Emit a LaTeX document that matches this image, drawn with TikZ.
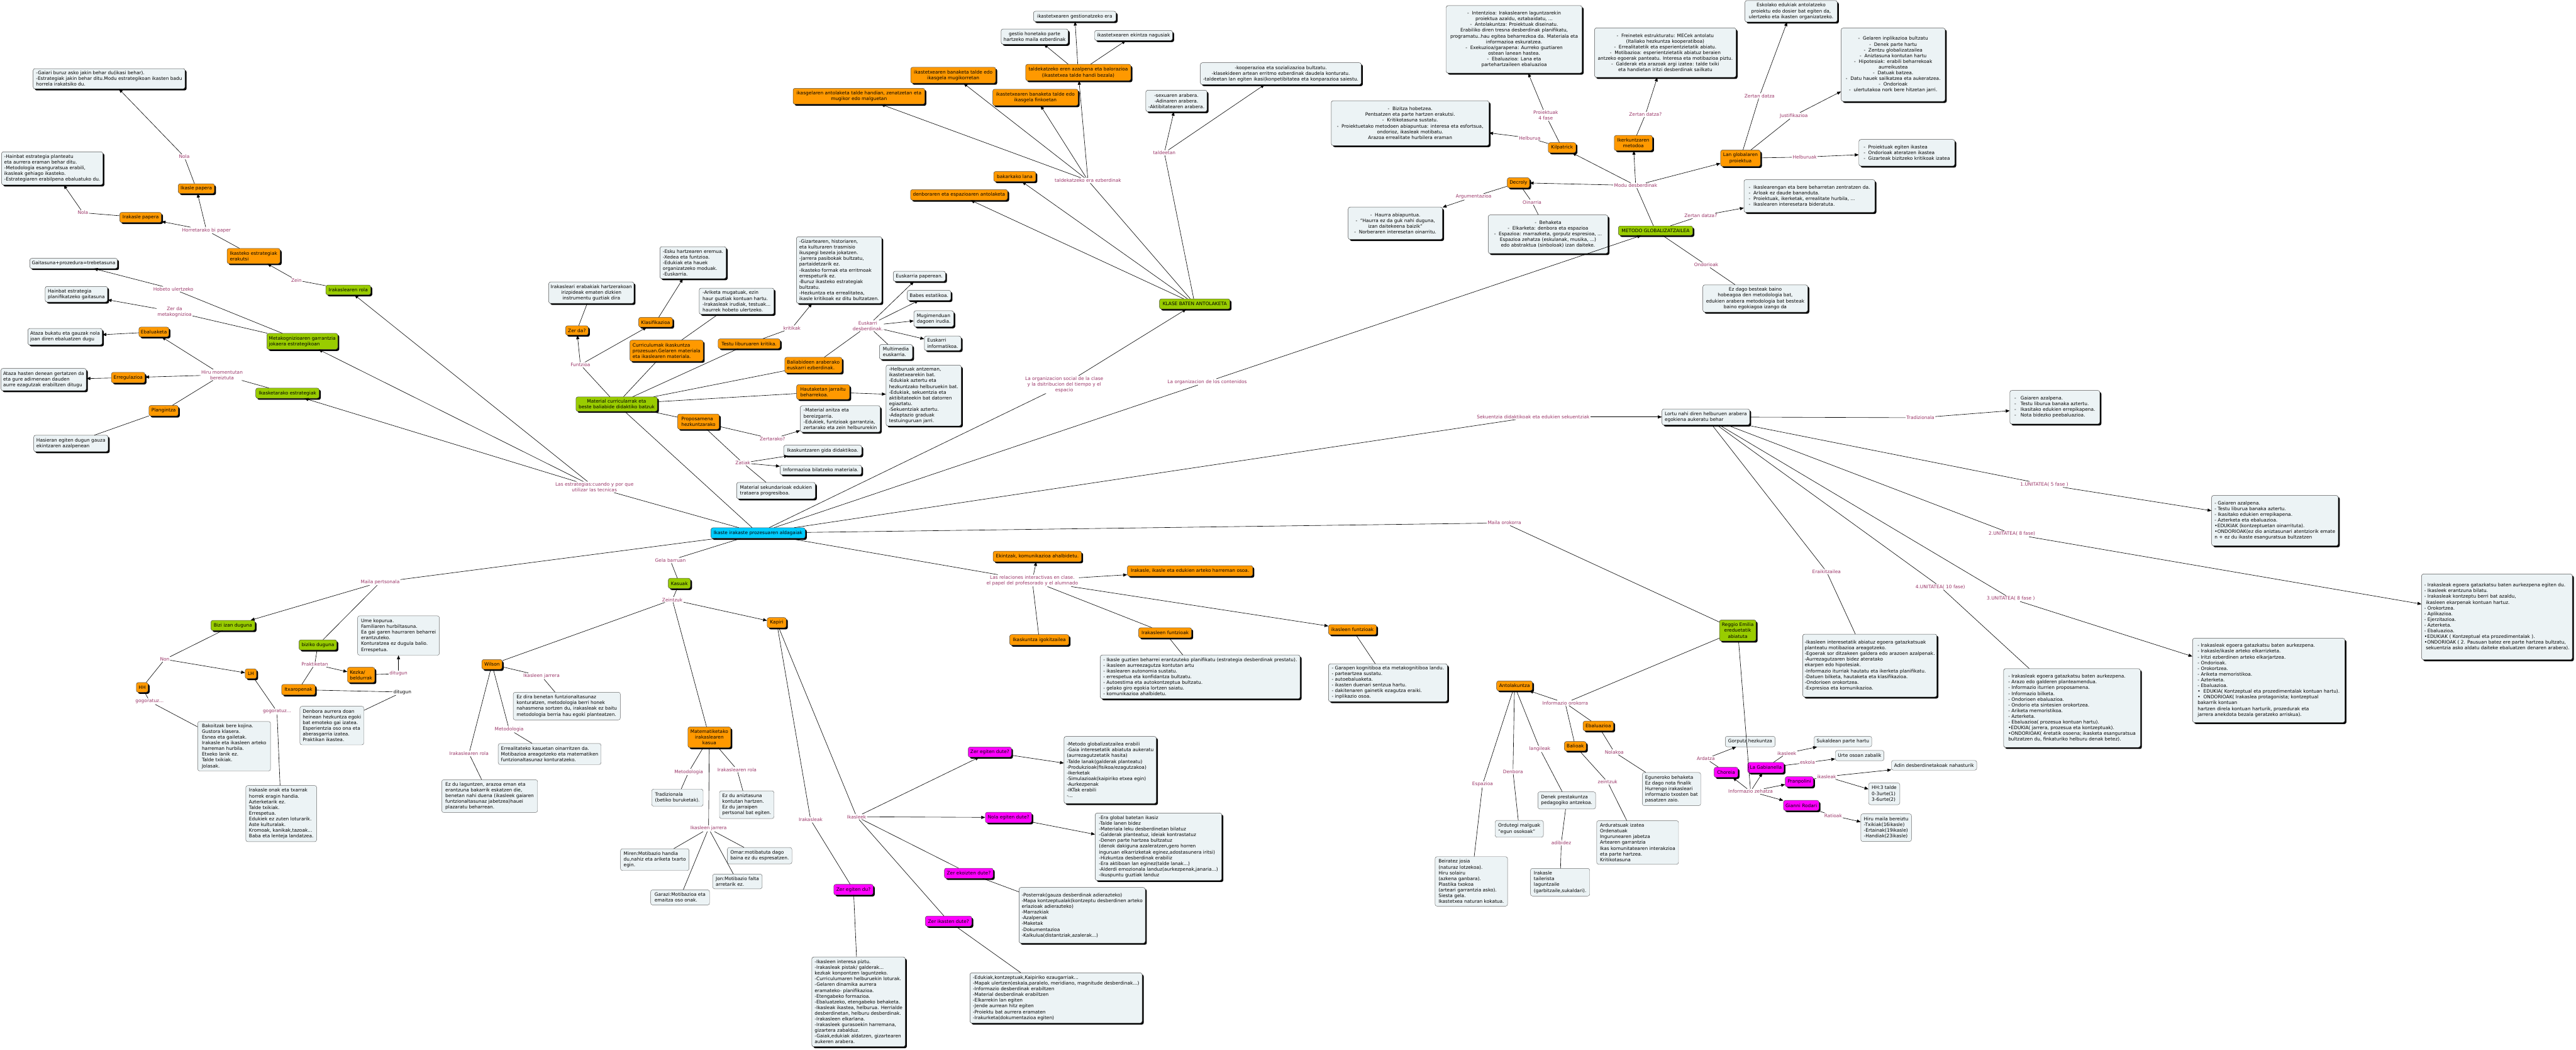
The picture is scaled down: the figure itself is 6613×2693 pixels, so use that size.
\documentclass[tikz,border=0pt]{standalone}
\usepackage{fontspec}
\setmainfont{DejaVu Sans}
\usetikzlibrary{shadows,arrows.meta}
\definecolor{corange}{RGB}{255,153,0}
\definecolor{cgreen}{RGB}{153,204,0}
\definecolor{ccyan}{RGB}{0,204,255}
\definecolor{cmag}{RGB}{255,0,255}
\definecolor{clight}{RGB}{236,243,245}
\definecolor{clab}{RGB}{153,51,102}
\newcommand\nf{\fontsize{12}{14.7}\selectfont}
\tikzset{
 base/.style={rounded corners=5pt, draw=black!70, line width=0.8pt, font=\nf, inner xsep=5pt, inner ysep=4pt, align=center},
 sh/.style={drop shadow={shadow xshift=4pt, shadow yshift=-4pt, opacity=1, fill=black}},
 ob/.style={base, sh, fill=corange},
 gb/.style={base, sh, fill=cgreen},
 mb/.style={base, sh, fill=cmag},
 cb/.style={base, sh, fill=ccyan},
 lb/.style={base, sh, fill=clight},
 pb/.style={base, fill=clight, draw=black!60, line width=0.7pt},
 lab/.style={font=\nf, text=clab, inner sep=2pt, align=center},
 ln/.style={line width=1pt, draw=black},
 arr/.style={ln, -{Triangle[length=10pt,width=8pt]}},
}
\newcommand\Cn[7]{\node[#1,minimum width={#5pt-4pt},minimum height={#6pt-3pt}] (#2) at ({#3-2},{#4-2}) {#7};}
\newcommand\Pn[7]{\node[pb,#1,minimum width={#5pt},minimum height={#6pt}] (#2) at (#3,#4) {#7};}
\newcommand\Lb[4]{\node[lab] (#1) at (#2,#3) {#4};}
\begin{document}
\begin{tikzpicture}[x=1pt,y=-1pt]
\fill[white] (0,0) rectangle (6613,2693);
\useasboundingbox (0,0) rectangle (6613,2693);
% ---------- top-left
\Cn{lb,align=left}{gaiari}{282}{204}{394}{55}{-Gaiari buruz asko jakin behar du(ikasi behar).\\-Estrategiak jakin behar ditu.Modu estrategikoan ikasten badu\\horrela irakatsiko du.}
\Cn{lb,align=left}{hainbatplan}{136}{434}{264}{88}{-Hainbat estrategia planteatu\\eta aurrera eraman behar ditu.\\-Metodologia esanguratsua erabili,\\ikasleak gehiago ikasteko.\\-Estrategiaren erabilpena ebaluatuko du.}
\Cn{ob}{ikaslepap}{506}{486}{97}{28}{Ikasle papera}
\Cn{ob}{irakpap}{363}{560}{111}{29}{Irakasle papera}
\Cn{ob,align=left}{ikastekoerak}{653}{659}{140}{42}{Ikasteko estrategiak\\erakutsi}
\Cn{gb}{irakrola}{896}{746}{119}{28}{Irakaslearen rola}
\Cn{lb}{gaitasuna}{191}{678}{229}{29}{Gaitasuna+prozedura=trebetasuna}
\Cn{lb,align=left}{hainbatestrat}{198}{757}{164}{43}{Hainbat estrategia\\planifikatzeko gaitasuna}
\Cn{ob}{ebaluaketa}{397}{854}{81}{28}{Ebaluaketa}
\Cn{lb,align=left}{ataza}{169}{866}{195}{45}{Ataza bukatu eta gauzak nola\\joan diren ebaluatzen dugu}
\Cn{gb,align=left}{metakog}{778}{878}{186}{44}{Metakognizioaren garrantzia\\jokaera estrategikoan}
\Cn{lb,align=left}{atazahasten}{114}{976}{223}{60}{Ataza hasten denean gertatzen da\\eta gure adimenean dauden\\aurre ezagutzak erabiltzen ditugu}
\Cn{ob}{erregulazioa}{331}{971}{90}{30}{Erregulazioa}
\Cn{gb}{ikasketarako}{740}{1011}{167}{29}{Ikasketarako estrategiak}
\Cn{ob}{plangintza}{422}{1056}{79}{30}{Plangintza}
\Cn{lb,align=left}{hasieran}{184}{1140}{195}{45}{Hasieran egiten dugun gauza\\ekintzaren azalpenean}
% ---------- middle-left
\Cn{lb}{irakerab}{1520}{753}{222}{58}{Irakasleari erabakiak hartzerakoan\\irizpideak ematen dizkien\\instrumentu guztiak dira}
\Cn{ob}{zerda}{1483}{850}{62}{27}{Zer da?}
\Cn{ob}{klasif}{1685}{829}{91}{28}{Klasifikazioa}
\Cn{ob,align=left}{curric}{1713}{902}{192}{57}{Curriculumak ikaskuntza\\prozesuan.Gelaren materiala\\eta ikaslearen materiala.}
\Cn{gb}{material}{1585}{1039}{213}{40}{Material curricularrak eta\\beste baliabide didaktiko batzuk}
\Cn{lb,align=left}{esku}{1781}{676}{174}{85}{-Esku hartzearen eremua.\\-Xedea eta funtzioa.\\-Edukiak eta hauek\\organizatzeko moduak.\\-Euskarria.}
\Cn{lb,align=left}{ariketa}{1893}{775}{196}{70}{-Ariketa mugatuak, ezin\\haur guztiak kontuan hartu.\\-Irakasleak irudiak, testuak...\\haurrek hobeto ulertzeko.}
\Cn{ob}{testu}{1925}{884}{163}{28}{Testu liburuaren kritika.}
\Cn{lb,align=left}{gizartea}{2156}{695}{223}{174}{-Gizartearen, historiaren,\\eta kulturaren trasmisio\\ikuspegi bezela jokatzen.\\-Jarrera pasibokak bultzatu,\\partaidetzarik ez.\\-Ikasteko formak eta erritmoak\\errespeturik ez.\\-Buruz ikasteko estrategiak\\bultzatu.\\-Hezkuntza eta errealitatea,\\ikasle kritikoak ez ditu bultzatzen.}
\Cn{ob,align=left}{baliabideen}{2090}{939}{151}{43}{Baliabideen araberako\\euskarri ezberdinak.}
\Cn{lb}{euskpaper}{2362}{711}{138}{29}{Euskarria paperean.}
\Cn{lb}{babes}{2387}{760}{116}{29}{Babes estatikoa.}
\Cn{lb,align=left}{mugimendu}{2399}{820}{106}{44}{Mugimenduan\\dagoen irudia.}
\Cn{lb,align=left}{euskinf}{2422}{883}{98}{40}{Euskarri\\informatikoa.}
\Cn{lb,align=left}{multimedia}{2302}{905}{89}{41}{Multimedia\\euskarria.}
\Cn{ob,align=left}{hautaketan}{2115}{1008}{140}{41}{Hautaketan jarraitu\\beharrekoa.}
\Cn{lb,align=left}{helburuak}{2373}{1017}{197}{159}{-Helburuak antzeman,\\ikastetxearekin bat.\\-Edukiak aztertu eta\\hezkuntzako helburuekin bat.\\-Edukiak, sekuentzia eta\\aktibitateekin bat datorren\\egiaztatu.\\-Sekuentziak aztertu.\\-Adaptazio graduak\\testuinguruan jarri.}
\Cn{ob,align=left}{proposamena}{1795}{1084}{111}{42}{Proposamena\\hezkuntzarako}
\Cn{lb,align=left}{materialanitza}{2159}{1077}{209}{71}{-Material anitza eta\\bereizgarria.\\-Edukiek, funtzioak garrantzia,\\zertarako eta zein helbururekin}
\Cn{lb}{gida}{2114}{1158}{204}{30}{Ikaskuntzaren gida didaktikoa.}
\Cn{lb}{infobil}{2109}{1208}{213}{28}{Informazioa bilatzeko materiala.}
\Cn{lb,align=left}{matsek}{1994}{1261}{206}{45}{Material sekundarioak edukien\\trataera progresiboa.}
\Cn{cb}{center}{1948}{1370}{246}{30}{Ikaste irakaste prozesuaren aldagaiak}
% ---------- upper middle
\Cn{lb}{gestioera}{2761}{44}{216}{29}{ikastetxearen gestionatzeko era}
\Cn{lb}{gestioparte}{2658}{96}{176}{42}{gestio honetako  parte\\hartzeko maila ezberdinak}
\Cn{lb}{ekintza}{2912}{93}{204}{29}{ikastetxearen ekintza nagusiak}
\Cn{ob}{taldeeren}{2770}{188}{274}{45}{taldekatzeko eren azalpena eta balorazioa\\(ikastetxea talde handi bezala)}
\Cn{ob}{banaketamug}{2449}{195}{222}{44}{ikastetxearen banaketa talde edo\\ikasgela mugikorretan}
\Cn{ob}{ikasgelaant}{2207}{249}{342}{44}{ikasgelaren antolaketa talde handian, zenatzetan eta\\mugikor edo malguetan}
\Cn{ob}{banaketafink}{2660}{252}{223}{45}{ikastetxearen banaketa talde edo\\ikasgela finkoetan}
\Cn{lb}{sexua}{3022}{261}{161}{58}{-sexuaren arabera.\\-Adinaren arabera.\\-Aktibitatearen arabera.}
\Cn{lb}{kooperazioa}{3290}{191}{417}{59}{-kooperazioa eta sozializazioa bultzatu.\\-klasekideen artean erritmo ezberdinak daudela konturatu.\\-taldeetan lan egiten ikasi(konpetibitatea eta konparazioa saiestu.}
\Cn{ob}{bakarkako}{2607}{455}{112}{29}{bakarkako lana}
\Cn{ob}{denboraesp}{2464}{502}{253}{30}{denboraren eta espazioaren antolaketa}
\Cn{gb}{klase}{3069}{782}{185}{29}{KLASE BATEN ANTOLAKETA}
% ---------- metodo globalizatzailea
\Cn{lb}{intentzioa}{3889}{103}{353}{176}{-\ \ Intentzioa: Irakaslearen laguntzarekin\\proiektua azaldu, eztabaidatu, ...\\-\ \ Antolakuntza: Proiektuak diseinatu.\\Erabiliko diren tresna desberdinak planifikatu,\\programatu..hau egitea beharrezkoa da. Materiala eta\\informazioa eskuratzea.\\-\ \ Exekuzioa/garapena: Aurreko guztiaren\\ostean lanean hastea.\\-\ \ Ebaluazioa: Lana eta\\partehartzaileen ebaluazioa}
\Cn{lb}{freinet}{4277}{137}{367}{130}{-\ \ Freinetek estrukturatu: MECek antolatu\\(Italiako hezkuntza kooperatiboa)\\-\ \ Errealitatetik eta esperientzietatik abiatu.\\-\ \ Motibazioa: esperientzietatik abiatuz beraien\\antzeko egoerak panteatu. Interesa eta motibazioa piztu.\\-\ \ Galderak eta arazoak argi izatea: talde txiki\\eta handietan iritzi desberdinak sailkatu}
\Cn{lb}{eskolako}{4600}{31}{241}{58}{Eskolako edukiak antolatzeko\\proiektu edo dosier bat egiten da,\\ulertzeko eta ikasten organizatzeko.}
\Cn{lb}{gelaren}{4862}{168}{271}{191}{-\ \ Gelaren inplikazioa bultzatu\\-\ \ Denek parte hartu\\-\ \ Zentzu globalizatzailea\\-\ \ Aniztasuna kontutan hartu\\-\ \ Hipotesiak: erabili beharrekoak\\aurreikustea\\-\ \ Datuak batzea.\\-\ \ Datu hauek sailkatzea eta aukeratzea.\\-\ \ Ondorioak\\-\ \ ulertutakoa nork bere hitzetan jarri.}
\Cn{lb}{bizitza}{3622}{318}{409}{118}{-\ \ Bizitza hobetzea.\\Pentsatzen eta parte hartzen erakutsi.\\-\ \ Kritikotasuna sustatu.\\-\ \ Proiektuetako metodoen abiapuntua: interesa eta esfortsua,\\ondorioz, ikasleak motibatu.\\Arazoa errealitate hurbilera eraman}
\Cn{ob}{kilpatrick}{4012}{381}{75}{29}{Kilpatrick}
\Cn{ob}{ikerkuntza}{4195}{369}{102}{42}{Ikerkuntzaren\\metodoa}
\Cn{ob}{langlobal}{4470}{408}{106}{45}{Lan globalaren\\proiektua}
\Cn{lb,align=left}{proiektuegiten}{4897}{394}{250}{71}{-\ \ Proiektuak egiten ikastea\\-\ \ Ondorioak ateratzen ikastea\\-\ \ Gizarteak bizitzeko kritikoak izatea}
\Cn{ob}{decroly}{3900}{471}{61}{29}{Decroly}
\Cn{lb}{haurra}{3584}{575}{246}{86}{-\ \ Haurra abiapuntua.\\-\ \ “Haurra ez da guk nahi duguna,\\izan daitekeena baizik”\\-\ \ Norberaren interesetan oinarritu.}
\Cn{lb}{behaketa}{3976}{603}{311}{102}{-\ \ Behaketa\\-\ \ Elkarketa: denbora eta espazioa\\-\ \ Espazioa: marrazketa, gorputz espresioa, ...\\Espazioa zehatza (eskulanak, musika, ...)\\edo abstraktua (sinboloak) izan daiteke.}
\Cn{gb}{metodo}{4252}{594}{195}{27}{METODO GLOBALIZATZAILEA}
\Cn{lb,align=left}{ikaslearengan}{4647}{505}{340}{87}{-\ \ Ikaslearengan eta bere beharretan zentratzen da.\\-\ \ Arloak ez daude bananduta.\\-\ \ Proiektuak, ikerketak, errealitate hurbila, ...\\-\ \ Ikaslearen interesetara bideratuta.}
\Cn{lb}{ezdago}{4508}{768}{273}{73}{Ez dago besteak baino\\hobeagoa den metodologia bat,\\edukien arabera metodologia bat besteak\\baino egokiagoa izango da}
% ---------- bottom-left
\Cn{gb}{bizi}{600}{1607}{117}{29}{Bizi izan duguna}
\Cn{gb}{biziko}{818}{1657}{101}{29}{biziko duguna}
\Cn{ob}{hh}{367}{1766}{34}{28}{HH}
\Cn{ob}{lh}{646}{1731}{33}{28}{LH}
\Cn{ob,align=left}{kezka}{929}{1734}{74}{42}{Kezka/\\beldurrak}
\Pn{align=left}{ume}{1023}{1631}{210}{101}{Ume kopurua.\\Familiaren hurbiltasuna.\\Ea gai garen haurraren beharrei\\erantzuteko.\\Konturatzea ez dugula balio.\\Errespetua.}
\Cn{ob}{itxaropenak}{768}{1772}{90}{30}{Itxaropenak}
\Cn{ob}{wilson}{1265}{1707}{56}{28}{Wilson}
\Pn{align=left}{ezdira}{1455}{1812}{275}{71}{Ez dira benetan funtzionaltasunaz\\konturatzen, metodologia berri honek\\nahasmena sortzen du, irakasleak ez baitu\\metodologia berria hau egoki planteatzen.}
\Pn{align=left}{bakoitzak}{601}{1915}{187}{127}{Bakoitzak bere kojina.\\Gustora klasera.\\Esnea eta gailetak.\\Irakasle eta ikasleen arteko\\harreman hurbila.\\Etxeko lanik ez.\\Talde txikiak.\\Jolasak.}
\Pn{align=left}{irakonak}{722}{2088}{182}{144}{Irakasle onak eta txarrak\\horrek eragin handia.\\Azterketarik ez.\\Talde txikiak.\\Errespetua.\\Edukiek ez zuten loturarik.\\Aste kulturalak.\\Kromoak, kanikak,tazoak...\\Baba eta lenteja landatzea.}
\Pn{align=left}{denboraaur}{852}{1862}{164}{99}{Denbora aurrera doan\\heinean hezkuntza egoki\\bat emoteko gai izatea.\\Esperientzia oso ona eta\\aberasgarria izatea.\\Praktikan ikastea.}
\Pn{align=left}{errealit}{1411}{1935}{264}{54}{Errealitateko kasuetan oinarritzen da.\\Motibazioa areagotzeko eta matematiken\\funtzionaltasunaz konturatzeko.}
\Pn{align=left}{ezdulag}{1257}{2043}{246}{84}{Ez du laguntzen, arazoa eman eta\\erantzuna bakarrik eskatzen die,\\benetan nahi duena (ikasleek gaiaren\\funtzionaltasunaz jabetzea)hauei\\plazaratu beharrean.}
\Pn{align=left}{miren}{1681}{2206}{176}{56}{Miren:Motibazio handia\\du,nahiz eta ariketa txarto\\egin.}
\Cn{ob}{matem}{1823}{1894}{114}{56}{Matematiketako\\irakaslearen\\kasua}
\Pn{align=left}{tradiz}{1739}{2047}{132}{44}{Tradizionala\\(betiko buruketak).}
\Pn{align=left}{ezduanizt}{1917}{2065}{140}{71}{Ez du aniztasuna\\kontutan hartzen.\\Ez du jarraipen\\pertsonal bat egiten.}
\Pn{align=left}{omar}{1950}{2196}{166}{42}{Omar:motibatuta dago\\baina ez du espresatzen.}
\Pn{align=left}{jon}{1893}{2262}{127}{38}{Jon:Motibazio falta\\arretarik ez.}
\Pn{align=left}{garazi}{1746}{2303}{151}{39}{Garazi:Motibazioa eta\\emaitza oso onak.}
\Cn{mb}{zeregitendute}{2543}{1932}{115}{29}{Zer egiten dute?}
\Cn{lb,align=left}{metodoglobbox}{2852}{1978}{241}{175}{-Metodo globalizatzailea erabili\\-Gaia interesetatik abiatuta aukeratu\\(aurrezagutzetatik hasita)\\-Talde lanak(galderak planteatu)\\-Produkzioak(fisikoa/ezagutzakoa)\\-Ikerketak\\-Simulazioak(kaipiriko etxea egin)\\-Aurkezpenak\\-IKTak erabili\\-...}
\Cn{mb}{nolaegiten}{2591}{2100}{123}{30}{Nola egiten dute?}
\Cn{lb,align=left}{eraglobal}{2976}{2175}{329}{176}{-Era global batetan ikasiz\\-Talde lanen bidez\\-Materiala leku desberdinetan bilatuz\\-Galderak planteatuz, ideiak kontrastatuz\\-Denen parte hartzea bultzatuz\\(denok dakiguna azaleratzen,gero horren\\ inguruan elkarrizketak eginez,adostasunera iritsi)\\-Hizkuntza desberdinak erabiliz\\-Era aktiboan lan eginez(talde lanak...)\\-Alderdi emozionala landuz(aurkezpenak,janaria...)\\-Ikuspuntu guztiak landuz}
\Cn{mb}{zerekoizten}{2489}{2243}{129}{29}{Zer ekoizten dute?}
\Cn{lb,align=left}{posterrak}{2780}{2351}{328}{146}{-Posterrak(gauza desberdinak adierazteko)\\-Mapa kontzeptualak(kontzeptu desberdinen arteko\\ erlazioak adierazteko)\\-Marrazkiak\\-Azalpenak\\-Maketak\\-Dokumentazioa\\-Kalkulua(distantziak,azalerak...)}
\Cn{mb}{zeregitendu}{2193}{2285}{105}{30}{Zer egiten du?}
\Cn{mb}{zerikasten}{2437}{2366}{123}{29}{Zer ikasten dute?}
\Cn{lb,align=left}{ikasleenint}{2206}{2573}{244}{233}{-Ikasleen interesa piztu.\\-Irakasleak pistak/ galderak...\\kezkak konpontzen laguntzeko.\\-Curriculumaren helburuekin loturak.\\-Gelaren dinamika aurrera\\eramateko- planifikazioa.\\-Etengabeko formazioa.\\-Ebaluatzeko, etengabeko behaketa.\\-Ikasleak ikastea, helburua. Herrialde\\desberdinetan, helburu desberdinak.\\-Irakasleen elkarlana.\\-Irakasleek gurasoekin harremana,\\gizartera zabalduz.\\-Gaiak,edukiak aldatzen, gizartearen\\aukeren arabera.}
\Cn{lb,align=left}{edukiak}{2713}{2563}{446}{132}{-Edukiak,kontzeptuak,Kaipiriko ezaugarriak...\\-Mapak ulertzen(eskala,paralelo, meridiano, magnitude desberdinak...)\\-Informazio desberdinak erabiltzen\\-Material desberdinak erabiltzen\\-Elkarrekin lan egiten\\-Jende aurrean hitz egiten\\-Proiektu bat aurrera eramaten\\-Irakurketa(dokumentazioa egiten)}
% ---------- centre-bottom
\Cn{gb}{kasuak}{1746}{1499}{61}{29}{Kasuak}
\Cn{ob}{kapiri}{1996}{1600}{53}{29}{Kapiri}
\Cn{ob}{ekintzak}{2665}{1430}{231}{30}{Ekintzak, komunikazioa ahalbidetu.}
\Cn{ob}{irakikas}{3057}{1467}{326}{30}{Irakasle, ikasle eta edukien arteko harreman osoa.}
\Cn{ob}{ikaskigo}{2670}{1644}{156}{30}{Ikaskuntza igokitzailea}
\Cn{ob}{irakfuntz}{2993}{1626}{140}{29}{Irakasleen funtzioak}
\Cn{lb,align=left}{ikasleguztien}{3083}{1739}{517}{115}{- Ikasle guztien beharrei erantzuteko planifikatu (estrategia desberdinak prestatu).\\- ikasleen aurreezagutza kontutan artu\\- ikaslearen autonomia sustatu.\\- errespetua eta konfidantza bultzatu.\\- Autoestima eta autokontzeptua bultzatu.\\- gelako giro egokia lortzen saiatu.\\- komunikazioa ahalbidetu.}
\Cn{ob}{ikasleenfuntz}{3474}{1618}{127}{29}{ikasleen funtzioak}
\Cn{lb,align=left}{garapen}{3565}{1754}{309}{100}{- Garapen kognitiboa eta metakognitiboa landu.\\- parteartzea sustatu.\\- autoebaluaketa.\\- ikasten duenari sentzua hartu.\\- dakitenaren gainetik ezagutza eraiki.\\- inplikazio osoa.}
% ---------- right
\Cn{lb,align=left}{lortu}{4381}{1072}{229}{44}{Lortu nahi diren helburuen arabera\\egokiena aukeratu behar}
\Cn{gb}{reggio}{4463}{1620}{98}{57}{Reggio Emilia\\ereduetatik\\abiatuta}
\Cn{lb,align=left}{ikasintereset}{4802}{1710}{348}{164}{-Ikasleen interesetatik abiatuz egoera gatazkatsuak\\planteatu motibazioa areagotzeko.\\-Egoerak sor ditzakeen galdera edo arazoen azalpenak.\\-Aurrezagutzaren bidez ateratako\\ekarpen edo hipotesiak.\\-Informazio iturriak hautatu eta ikerketa planifikatu.\\-Datuen bilketa, hautaketa eta klasifikazioa.\\-Ondorioen orokortzea.\\-Expresioa eta komunikazioa.}
\Cn{ob}{antolakuntza}{3890}{1762}{96}{28}{Antolakuntza}
\Cn{lb,align=left}{gaiaren1}{5277}{1047}{235}{89}{-\ \ \ Gaiaren azalpena.\\-\ \ \ Testu liburua banaka aztertu.\\-\ \ \ Ikasitako edukien errepikapena.\\-\ \ \ Nota bidezko peebaluazioa.}
\Cn{lb,align=left}{gaiaren2}{5842}{1338}{329}{132}{- Gaiaren azalpena.\\- Testu liburua banaka aztertu.\\- Ikasitako edukien errepikapena.\\- Azterketa eta ebaluazioa.\\•EDUKIAK (kontzeptuetan oinarrituta).\\•ONDORIOAK(ez dio aniztasunari atentziorik emate\\n + ez du ikaste esanguratsua bultzatzen}
\Cn{lb,align=left}{irakeg2}{6412}{1585}{391}{223}{- Irakasleak egoera gatazkatsu baten aurkezpena egiten du.\\- Ikasleek erantzuna bilatu.\\- Irakasleak kontzeptu berri bat azaldu,\\\ ikasleen ekarpenak kontuan hartuz.\\- Orokortzea.\\- Aplikazioa.\\- Ejerzitazioa.\\- Azterketa.\\- Ebaluazioa.\\•EDUKIAK ( Kontzeptual eta prozedimentalak ).\\•ONDORIOAK ( 2. Pausuan batez ere parte hartzea bultzatu,\\\ sekuentzia asko aldatu daiteke ebaluatzen denaren arabera).}
\Cn{lb,align=left}{irakeg3}{5826}{1748}{395}{219}{- Irakasleak egoera gatazkatsu baten aurkezpena.\\- Irakasle/ikasle arteko elkarrizketa.\\- Iritzi ezberdinen arteko elkarjartzea.\\- Ondorioak.\\- Orokortzea.\\- Ariketa memoristikoa.\\- Azterketa.\\- Ebaluazioa.\\•\ \ EDUKIA( Kontzeptual eta prozedimentalak kontuan hartu).\\•\ \ ONDORIOAK( Irakaslea protagonista; kontzeptual\\bakarrik kontuan\\hartzen direla kontuan harturik, prozedurak eta\\jarrera anekdota bezala geratzeko arriskua).}
\Cn{lb,align=left}{irakeg4}{5321}{1819}{355}{205}{- Irakasleak egoera gatazkatsu baten aurkezpena.\\- Arazo edo galderen planteamendua.\\- Informazio iturrien proposamena.\\- Informazio bilketa.\\- Ondorioen ebaluazioa.\\- Ondorio eta sintesien orokortzea.\\- Ariketa memoristikoa.\\- Azterketa.\\- Ebaluazioa( prozesua kontuan hartu).\\•EDUKIA( jarrera, prozesua eta kontzeptuak).\\•ONDORIOAK( 4retatik osoena; ikasketa esanguratsua\\bultzatzen du, finkaturiko helburu denak betez).}
% ---------- reggio children
\Cn{ob}{balioak}{4046}{1917}{60}{27}{Balioak}
\Cn{ob}{ebaluazioa}{4105}{1865}{82}{28}{Ebaluazioa}
\Pn{align=left}{eguneroko}{4291}{2025}{150}{85}{Eguneroko behaketa\\Ez dago nota finalik\\Hurrengo irakasleari\\informazio txosten bat\\pasatzen zaio.}
\Pn{align=left}{arduratsuak}{4204}{2162}{210}{112}{Arduratsuak izatea\\Ordenatuak\\Ingurunearen jabetza\\Artearen garrantzia\\Ikas komunitatearen interakzioa\\eta parte hartzea.\\Kritikotasuna}
\Pn{align=left}{denek}{4022}{2054}{148}{44}{Denek prestakuntza\\pedagogiko antzekoa.}
\Pn{align=left}{irakaslet}{4005}{2264}{152}{71}{Irakasle\\tailerista\\laguntzaile\\(garbitzaile,sukaldari).}
\Pn{align=left}{ordutegi}{3900}{2127}{124}{43}{Ordutegi malguak\\"egun osokoak"}
\Pn{align=left}{beiratez}{3777}{2262}{186}{127}{Beiratez josia\\(naturaz lotzekoa).\\Hiru solairu\\(azkena ganbara).\\Plastika txokoa\\(arteari garrantzia asko).\\Siesta gela.\\Ikastetxea naturan kokatua.}
\Pn{}{gorputz}{4493}{1903}{128}{27}{Gorputz hezkuntza}
\Cn{mb}{choreia}{4433}{1984}{65}{29}{Choreia}
\Cn{mb}{gabianella}{4535}{1972}{97}{30}{La Gabianella}
\Pn{}{sukaldean}{4731}{1903}{148}{27}{Sukaldean parte hartu}
\Pn{}{urte}{4774}{1939}{125}{26}{Urte osoan zabalik}
\Cn{mb}{pranpolini}{4621}{2008}{76}{29}{Pranpolini}
\Pn{}{adin}{4965}{1964}{219}{25}{Adin desberdinetakoak nahasturik}
\Pn{align=left}{hh3}{4837}{2037}{80}{56}{HH:3 talde\\0-3urte(1)\\3-6urte(2)}
\Cn{mb}{gianni}{4626}{2069}{95}{29}{Gianni Rodari}
\Pn{align=left}{hirumaila}{4842}{2124}{130}{71}{Hiru maila bereiztu\\-Txikiak(16ikasle)\\-Ertainak(19ikasle)\\-Handiak(23ikasle)}
% ---------- link labels
\Lb{lnola1}{473}{402}{Nola}
\Lb{lnola2}{213}{546}{Nola}
\Lb{lhorretarako}{530}{591}{Horretarako bi paper}
\Lb{lzein}{761}{719}{Zein}
\Lb{lhobeto}{445}{742}{Hobeto ulertzeko}
\Lb{lzerdameta}{448}{800}{Zer da\\metakognizioa}
\Lb{lhiru}{570}{962}{Hiru momentutan\\bereiztuta}
\Lb{lestrat}{1526}{1250}{Las estrategias:cuando y por que\\utilizar las tecnicas}
\Lb{lfuntzioa}{1490}{936}{Funtzioa}
\Lb{lkritikak}{2033}{842}{kritikak}
\Lb{leuskarri}{2228}{836}{Euskarri\\desberdinak.}
\Lb{lzertarako}{1983}{1126}{Zertarako?}
\Lb{lzatiak}{1907}{1188}{Zatiak}
\Lb{ltaldeetan}{2989}{392}{taldeetan}
\Lb{ltaldekatzeko}{2793}{463}{taldekatzeko era ezberdinak}
\Lb{lorgsoc}{2732}{987}{La organizacion social de la clase\\y la dsitribucion del tiempo y el\\espacio}
\Lb{lorgcont}{3099}{980}{La organizacion de los contenidos}
\Lb{lproiektuak}{3968}{296}{Proiektuak\\4 fase}
\Lb{lhelburua}{3927}{354}{Helburua}
\Lb{lzertan1}{4224}{294}{Zertan datza?}
\Lb{lzertan2}{4517}{246}{Zertan datza}
\Lb{ljustif}{4605}{297}{Justifikazioa}
\Lb{lhelburuak}{4633}{403}{Helburuak}
\Lb{lmodu}{4199}{476}{Modu desberdinak}
\Lb{largument}{3783}{505}{Argumentazioa}
\Lb{loinarria}{3933}{519}{Oinarria}
\Lb{lzertan3}{4366}{554}{Zertan datza?}
\Lb{londorioak}{4380}{680}{Ondorioak}
\Lb{lsekuentzia}{3936}{1070}{Sekuentzia didaktikoak eta edukien sekuentziak}
\Lb{ltradiz}{4930}{1072}{Tradizionala}
\Lb{lunit1}{5248}{1243}{1.UNITATEA( 5 fase )}
\Lb{lunit2}{5165}{1370}{2.UNITATEA( 8 fase)}
\Lb{lunit3}{5162}{1536}{3.UNITATEA( 8 fase )}
\Lb{lunit4}{4981}{1506}{4.UNITATEA( 10 fase)}
\Lb{lmailaoro}{3862}{1342}{Maila orokorra}
\Lb{leraiki}{4689}{1467}{Eraikitzailea}
\Lb{linfooro}{4018}{1804}{Informazio orokorra}
\Lb{lnolakoa}{4144}{1930}{Nolakoa}
\Lb{lzeintzuk2}{4127}{2007}{zeintzuk}
\Lb{llangileak}{3953}{1922}{langileak}
\Lb{ladibidez}{4008}{2163}{adibidez}
\Lb{ldenbora}{3884}{1980}{Denbora}
\Lb{lespazioa}{3806}{2013}{Espazioa}
\Lb{linfozeh}{4494}{2031}{Informazio zehatza}
\Lb{lardatza}{4379}{1947}{Ardatza}
\Lb{likasleek2}{4587}{1933}{ikasleek}
\Lb{leskola}{4640}{1957}{eskola}
\Lb{likasleak3}{4689}{1993}{ikasleak}
\Lb{lratioak}{4706}{2093}{Ratioak}
\Lb{lrelac}{2650}{1490}{Las relaciones interactivas en clase.\\el papel del profesorado y el alumnado}
\Lb{lgela}{1721}{1438}{Gela barruan}
\Lb{lzeintzuk}{1726}{1539}{Zeintzuk}
\Lb{lmailapers}{976}{1494}{Maila pertsonala}
\Lb{lnon}{423}{1692}{Non}
\Lb{lprakt}{808}{1705}{Praktiketan}
\Lb{lditugun1}{1023}{1729}{ditugun}
\node[lab,text=black] (lditugun2) at (1033,1776) {ditugun};
\Lb{likjarrera1}{1390}{1735}{Ikasleen jarrera}
\Lb{lgogo1}{384}{1800}{gogoratuz...}
\Lb{lgogo2}{711}{1826}{gogoratuz...}
\Lb{lmetod1}{1307}{1872}{Metodologia}
\Lb{lirakrola1}{1204}{1934}{Irakaslearen rola}
\Lb{lmetod2}{1768}{1981}{Metodologia}
\Lb{lirakrola2}{1892}{1975}{Irakaslearen rola}
\Lb{likjarrera2}{1819}{2126}{Ikasleen jarrera}
\Lb{lirakasleak}{2081}{2104}{Irakasleak}
\Lb{likasleek}{2199}{2096}{Ikasleek}
% ---------- connectors
\draw[ln] (ikastekoerak) -- (lhorretarako);
\draw[arr] (lhorretarako) -- (irakpap);
\draw[arr] (lhorretarako) -- (ikaslepap);
\draw[ln] (ikaslepap) -- (lnola1); \draw[arr] (lnola1) -- (gaiari);
\draw[ln] (irakpap) -- (lnola2); \draw[arr] (lnola2) -- (hainbatplan);
\draw[ln] (irakrola) -- (lzein); \draw[arr] (lzein) -- (ikastekoerak);
\draw[ln] (center) -- (lestrat);
\draw[arr] (lestrat) -- (irakrola);
\draw[arr] (lestrat) -- (metakog);
\draw[arr] (lestrat) -- (ikasketarako);
\draw[ln] (metakog) -- (lhobeto); \draw[arr] (lhobeto) -- (gaitasuna);
\draw[ln] (metakog) -- (lzerdameta); \draw[arr] (lzerdameta) -- (hainbatestrat);
\draw[ln] (ikasketarako) -- (lhiru);
\draw[arr] (lhiru) -- (ebaluaketa);
\draw[arr] (lhiru) -- (erregulazioa);
\draw[ln] (lhiru) -- (plangintza);
\draw[arr] (ebaluaketa) -- (ataza);
\draw[arr] (erregulazioa) -- (atazahasten);
\draw[ln] (plangintza) -- (hasieran);
\draw[ln] (material) -- (lfuntzioa);
\draw[arr] (lfuntzioa) -- (zerda);
\draw[arr] (lfuntzioa) -- (klasif);
\draw[ln] (zerda) -- (irakerab);
\draw[ln] (material) -- (curric);
\draw[arr] (klasif) -- (esku);
\draw[ln] (curric) -- (ariketa);
\draw[ln] (material) -- (testu);
\draw[ln] (testu) -- (lkritikak); \draw[arr] (lkritikak) -- (gizartea);
\draw[ln] (material) -- (baliabideen);
\draw[ln] (baliabideen) -- (leuskarri);
\draw[arr] (leuskarri) -- (euskpaper);
\draw[arr] (leuskarri) -- (babes);
\draw[arr] (leuskarri) -- (mugimendu);
\draw[arr] (leuskarri) -- (euskinf);
\draw[ln] (leuskarri) -- (multimedia);
\draw[ln] (material) -- (hautaketan);
\draw[arr] (hautaketan) -- (helburuak);
\draw[ln] (material) -- (proposamena);
\draw[ln] (proposamena) -- (lzertarako); \draw[arr] (lzertarako) -- (materialanitza);
\draw[ln] (proposamena) -- (lzatiak);
\draw[arr] (lzatiak) -- (gida);
\draw[arr] (lzatiak) -- (infobil);
\draw[ln] (lzatiak) -- (matsek);
\draw[ln] (center) -- (material);
\draw[ln] (center) -- (lorgsoc); \draw[arr] (lorgsoc) -- (klase);
\draw[ln] (klase) -- (ltaldekatzeko);
\draw[arr] (ltaldekatzeko) -- (ikasgelaant);
\draw[arr] (ltaldekatzeko) -- (banaketamug);
\draw[arr] (ltaldekatzeko) -- (banaketafink);
\draw[arr] (ltaldekatzeko) -- (taldeeren);
\draw[arr] (klase) -- (bakarkako);
\draw[arr] (klase) -- (denboraesp);
\draw[ln] (klase) -- (ltaldeetan);
\draw[arr] (ltaldeetan) -- (sexua);
\draw[arr] (ltaldeetan) -- (kooperazioa);
\draw[arr] (taldeeren) -- (gestioparte);
\draw[arr] (taldeeren) -- (gestioera);
\draw[arr] (taldeeren) -- (ekintza);
\draw[ln] (center) -- (lorgcont); \draw[arr] (lorgcont) -- (metodo);
\draw[ln] (metodo) -- (lmodu);
\draw[arr] (lmodu) -- (decroly);
\draw[arr] (lmodu) -- (kilpatrick);
\draw[arr] (lmodu) -- (ikerkuntza);
\draw[arr] (lmodu) -- (langlobal);
\draw[ln] (decroly) -- (largument); \draw[arr] (largument) -- (haurra);
\draw[ln] (decroly) -- (loinarria); \draw[ln] (loinarria) -- (behaketa);
\draw[ln] (kilpatrick) -- (lhelburua); \draw[arr] (lhelburua) -- (bizitza);
\draw[ln] (kilpatrick) -- (lproiektuak); \draw[arr] (lproiektuak) -- (intentzioa);
\draw[ln] (ikerkuntza) -- (lzertan1); \draw[arr] (lzertan1) -- (freinet);
\draw[ln] (langlobal) -- (lzertan2); \draw[arr] (lzertan2) -- (eskolako);
\draw[ln] (langlobal) -- (ljustif); \draw[arr] (ljustif) -- (gelaren);
\draw[ln] (langlobal) -- (lhelburuak); \draw[arr] (lhelburuak) -- (proiektuegiten);
\draw[ln] (metodo) -- (lzertan3); \draw[arr] (lzertan3) -- (ikaslearengan);
\draw[ln] (metodo) -- (londorioak); \draw[ln] (londorioak) -- (ezdago);
\draw[ln] (center) -- (lsekuentzia); \draw[arr] (lsekuentzia) -- (lortu);
\draw[ln] (lortu) -- (ltradiz); \draw[arr] (ltradiz) -- (gaiaren1);
\draw[ln] (lortu) -- (lunit1); \draw[arr] (lunit1) -- (gaiaren2);
\draw[ln] (lortu) -- (lunit2); \draw[arr] (lunit2) -- (irakeg2);
\draw[ln] (lortu) -- (lunit3); \draw[arr] (lunit3) -- (irakeg3);
\draw[ln] (lortu) -- (lunit4); \draw[ln] (lunit4) -- (irakeg4);
\draw[ln] (lortu) -- (leraiki); \draw[ln] (leraiki) -- (ikasintereset);
\draw[ln] (center) -- (lmailaoro); \draw[ln] (lmailaoro) -- (reggio);
\draw[ln] (reggio) -- (linfooro);
\draw[arr] (linfooro) -- (antolakuntza);
\draw[ln] (linfooro) -- (balioak);
\draw[ln] (linfooro) -- (ebaluazioa);
\draw[ln] (antolakuntza) -- (llangileak); \draw[ln] (llangileak) -- (denek);
\draw[ln] (denek) -- (ladibidez); \draw[ln] (ladibidez) -- (irakaslet);
\draw[ln] (antolakuntza) -- (ldenbora); \draw[ln] (ldenbora) -- (ordutegi);
\draw[ln] (antolakuntza) -- (lespazioa); \draw[ln] (lespazioa) -- (beiratez);
\draw[ln] (balioak) -- (lzeintzuk2); \draw[ln] (lzeintzuk2) -- (arduratsuak);
\draw[ln] (ebaluazioa) -- (lnolakoa); \draw[ln] (lnolakoa) -- (eguneroko);
\draw[ln] (reggio) -- (linfozeh);
\draw[arr] (linfozeh) -- (choreia);
\draw[arr] (linfozeh) -- (gabianella);
\draw[arr] (linfozeh) -- (pranpolini);
\draw[arr] (linfozeh) -- (gianni);
\draw[ln] (choreia) -- (lardatza); \draw[arr] (lardatza) -- (gorputz);
\draw[ln] (gabianella) -- (likasleek2); \draw[arr] (likasleek2) -- (sukaldean);
\draw[ln] (gabianella) -- (leskola); \draw[arr] (leskola) -- (urte);
\draw[ln] (pranpolini) -- (likasleak3); \draw[arr] (likasleak3) -- (adin); \draw[arr] (likasleak3) -- (hh3);
\draw[ln] (gianni) -- (lratioak); \draw[arr] (lratioak) -- (hirumaila);
\draw[ln] (center) -- (lrelac);
\draw[arr] (lrelac) -- (ekintzak);
\draw[arr] (lrelac) -- (irakikas);
\draw[arr] (lrelac) -- (ikasleenfuntz);
\draw[ln] (lrelac) -- (ikaskigo);
\draw[ln] (lrelac) -- (irakfuntz);
\draw[ln] (irakfuntz) -- (ikasleguztien);
\draw[ln] (ikasleenfuntz) -- (garapen);
\draw[ln] (center) -- (lgela); \draw[ln] (lgela) -- (kasuak);
\draw[ln] (kasuak) -- (lzeintzuk);
\draw[arr] (lzeintzuk) -- (kapiri);
\draw[ln] (lzeintzuk) -- (matem);
\draw[ln] (lzeintzuk) -- (wilson);
\draw[ln] (kapiri) -- (lirakasleak); \draw[ln] (lirakasleak) -- (zeregitendu); \draw[ln] (zeregitendu) -- (ikasleenint);
\draw[ln] (kapiri) -- (likasleek);
\draw[arr] (likasleek) -- (zeregitendute);
\draw[arr] (likasleek) -- (nolaegiten);
\draw[ln] (likasleek) -- (zerekoizten);
\draw[ln] (likasleek) -- (zerikasten);
\draw[arr] (zeregitendute) -- (metodoglobbox);
\draw[arr] (nolaegiten) -- (eraglobal);
\draw[ln] (zerekoizten) -- (posterrak);
\draw[ln] (zerikasten) -- (edukiak);
\draw[ln] (matem) -- (lmetod2); \draw[ln] (lmetod2) -- (tradiz);
\draw[ln] (matem) -- (lirakrola2); \draw[ln] (lirakrola2) -- (ezduanizt);
\draw[ln] (matem) -- (likjarrera2);
\draw[ln] (likjarrera2) -- (omar);
\draw[ln] (likjarrera2) -- (jon);
\draw[ln] (likjarrera2) -- (garazi);
\draw[ln] (likjarrera2) -- (miren);
\draw[ln] (wilson) -- (likjarrera1); \draw[ln] (likjarrera1) -- (ezdira);
\draw[ln] (wilson) -- (lmetod1); \draw[ln] (lmetod1) -- (errealit);
\draw[ln] (wilson) -- (lirakrola1); \draw[ln] (lirakrola1) -- (ezdulag);
\draw[ln] (center) -- (lmailapers);
\draw[arr] (lmailapers) -- (bizi);
\draw[ln] (lmailapers) -- (biziko);
\draw[ln] (bizi) -- (lnon);
\draw[arr] (lnon) -- (lh);
\draw[ln] (lnon) -- (hh);
\draw[ln] (hh) -- (lgogo1); \draw[ln] (lgogo1) -- (bakoitzak);
\draw[ln] (lh) -- (lgogo2); \draw[ln] (lgogo2) -- (irakonak);
\draw[ln] (biziko) -- (lprakt);
\draw[arr] (lprakt) -- (kezka);
\draw[ln] (lprakt) -- (itxaropenak);
\draw[ln] (kezka) -- (lditugun1); \draw[arr] (lditugun1) -- (ume);
\draw[ln] (itxaropenak) -- (lditugun2); \draw[ln] (lditugun2) -- (denboraaur);
\end{tikzpicture}
\end{document}
